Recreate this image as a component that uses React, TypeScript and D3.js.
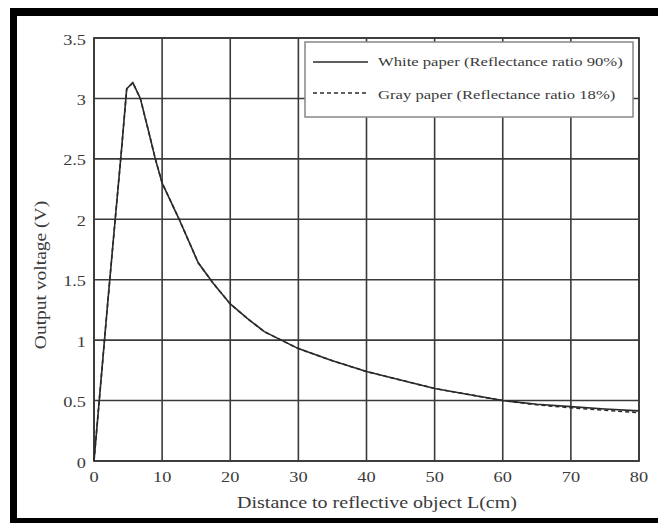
import React from 'react';
import { scaleLinear, line, range } from 'd3';

const width = 658;
const height = 523;

// distance (cm)
const distance = [0, 1, 2, 3, 4, 4.8, 5.7, 6.8, 8, 9, 10, 12.5, 15.3, 17.5, 20, 22.5, 25, 30, 35, 40, 45, 50, 55, 60, 65, 70, 75, 80];
// output voltage (V)
const whitePaper = [0, 0.65, 1.3, 1.93, 2.55, 3.08, 3.13, 3.0, 2.73, 2.5, 2.3, 2.0, 1.64, 1.47, 1.3, 1.18, 1.07, 0.93, 0.83, 0.74, 0.67, 0.6, 0.55, 0.5, 0.47, 0.45, 0.43, 0.415];
const grayPaper = [0, 0.65, 1.3, 1.93, 2.55, 3.08, 3.13, 3.0, 2.73, 2.5, 2.3, 2.0, 1.64, 1.47, 1.3, 1.18, 1.07, 0.93, 0.83, 0.74, 0.67, 0.6, 0.55, 0.5, 0.465, 0.44, 0.42, 0.4];

const xTicks = [0, 10, 20, 30, 40, 50, 60, 70, 80];
const yTicks = [0, 0.5, 1, 1.5, 2, 2.5, 3, 3.5];

const seriesNames = ['White paper (Reflectance ratio 90%)', 'Gray paper (Reflectance ratio 18%)'];

const x = scaleLinear().domain([0, 80]).range([94, 639]);
const y = scaleLinear().domain([0, 3.5]).range([461, 38]);

const pathGen = line<number>()
  .x((_, i) => x(distance[i]))
  .y(d => y(d));

const font = '"Liberation Serif", "Times New Roman", serif';
const ink = '#3a3a3a';

// the scanned figure is stretched sideways, so text is scaled to match
const T = ({ x, y, sx = 1.22, size = 15, anchor = 'start', rotate = 0, children }: any) => (
  <text
    transform={`translate(${x},${y}) rotate(${rotate}) scale(${sx},1)`}
    textAnchor={anchor}
    fontFamily={font}
    fontSize={size}
    fill={ink}
  >
    {children}
  </text>
);

const App = () => {
  const [x0, x1] = x.range();
  const [y0, y1] = y.range();
  return (
    <svg width={width} height={height} style={{ position: 'absolute', left: 0, top: 0, background: '#fff' }}>
      {/* black frame of the scan */}
      <rect x={10} y={8} width={648} height={8} fill="#000" />
      <rect x={10} y={8} width={7} height={515} fill="#000" />
      <rect x={10} y={518} width={648} height={5} fill="#000" />

      {/* grid */}
      {xTicks.map(t => (
        <line key={'gx' + t} x1={x(t)} x2={x(t)} y1={y1} y2={y0} stroke={ink} strokeWidth={1.6} />
      ))}
      {yTicks.map(t => (
        <line key={'gy' + t} x1={x0} x2={x1} y1={y(t)} y2={y(t)} stroke={ink} strokeWidth={1.6} />
      ))}
      <rect x={x0} y={y1} width={x1 - x0} height={y0 - y1} fill="none" stroke={ink} strokeWidth={1.8} />

      {/* curves */}
      <path d={pathGen(whitePaper) || ''} fill="none" stroke="#2a2a2a" strokeWidth={1.6} />
      <path d={pathGen(grayPaper) || ''} fill="none" stroke="#2a2a2a" strokeWidth={1.6} strokeDasharray="4,3" />

      {/* tick labels */}
      {yTicks.map(t => (
        <T key={'ty' + t} x={86} y={y(t) + 6.5} anchor="end">{String(t)}</T>
      ))}
      {xTicks.map(t => (
        <T key={'tx' + t} x={x(t)} y={482} anchor="middle">{String(t)}</T>
      ))}

      {/* axis titles */}
      <T x={377} y={508} anchor="middle" size={16} sx={1.25}>Distance to reflective object L(cm)</T>
      <T x={46} y={275} anchor="middle" size={16} rotate={-90}>Output voltage (V)</T>

      {/* legend */}
      <g>
        <rect x={305} y={42} width={328} height={75} fill="#fff" stroke="#888" strokeWidth={1.5} />
        {range(2).map(i => (
          <g key={'lg' + i}>
            <line x1={313} x2={368} y1={62 + i * 31} y2={62 + i * 31} stroke="#2a2a2a" strokeWidth={1.6}
              strokeDasharray={i === 1 ? '4,3' : undefined} />
            <T x={378} y={66 + i * 33} size={13} sx={1.28}>{seriesNames[i]}</T>
          </g>
        ))}
      </g>
    </svg>
  );
};

export default App;
